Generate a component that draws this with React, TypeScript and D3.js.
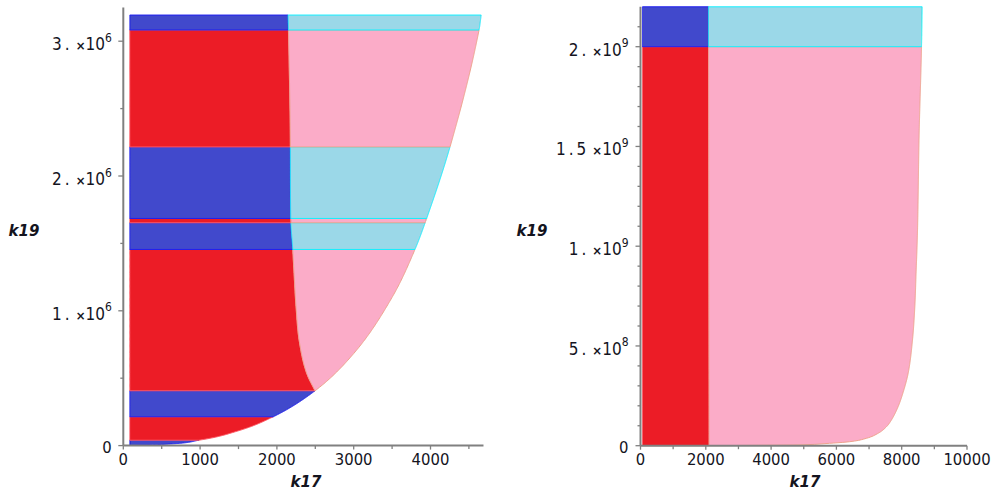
import React from "react";
import * as d3 from "d3";

// ---------- Left panel data (k17, k19) ----------
const leftCurveK17 = [0, 500, 1000, 1500, 1953, 2496, 3000, 3500, 3798, 3950, 4254, 4632, 4660];
const leftCurveK19 = [0, 0.0085e6, 0.0415e6, 0.11e6, 0.214e6, 0.4065e6, 0.683e6, 1.1e6, 1.455e6, 1.685e6, 2.2155e6, 3.083e6, 3.194e6];
const leftDividerK17 = [2496, 2388, 2292, 2249, 2223, 2206, 2180, 2175, 2150, 2145];
const leftDividerK19 = [0.4065e6, 0.5356e6, 0.7715e6, 1.029e6, 1.2775e6, 1.455e6, 1.685e6, 2.2155e6, 3.083e6, 3.194e6];
const leftBandEdges = [0, 0.04e6, 0.214e6, 0.4065e6, 1.455e6, 1.653e6, 1.685e6, 2.2155e6, 3.083e6, 3.194e6];
const leftBandKinds = ["b", "r", "b", "r", "b", "r", "b", "r", "b"];
const leftMinK17 = 85;
const leftXMajor = [0, 1000, 2000, 3000, 4000];
const leftXMinor = [500, 1500, 2500, 3500, 4500];
const leftYMajor = [0, 1e6, 2e6, 3e6];
const leftYMinor = [0.5e6, 1.5e6, 2.5e6];
const leftYMant = ["0", "1.", "2.", "3."];
const leftYExp = ["", "6", "6", "6"];

// ---------- Right panel data ----------
const rightCurveK17 = [0, 2496, 4660, 5791, 6405, 6918, 7276, 7533, 7686, 7890, 8065, 8198, 8331, 8402, 8440, 8480, 8535, 8608, 8627];
const rightCurveK19 = [0, 0.0004e9, 0.0032e9, 0.012e9, 0.02e9, 0.037e9, 0.062e9, 0.095e9, 0.129e9, 0.1955e9, 0.279e9, 0.363e9, 0.53e9, 0.697e9, 0.864e9, 1.05e9, 1.567e9, 2.0e9, 2.2e9];
const rightDividerK17 = [2100, 2083];
const rightDividerK19 = [0.0004e9, 2.2e9];
const rightBandEdges = [0, 2.0e9, 2.2e9];
const rightBandKinds = ["r", "b"];
const rightMinK17 = 60;
const rightXMajor = [0, 2000, 4000, 6000, 8000, 10000];
const rightXMinor = [1000, 3000, 5000, 7000, 9000];
const rightYMajor = [0, 0.5e9, 1e9, 1.5e9, 2e9];
const rightYMinor = [1e8, 2e8, 3e8, 4e8, 6e8, 7e8, 8e8, 9e8, 1.1e9, 1.2e9, 1.3e9, 1.4e9, 1.6e9, 1.7e9, 1.8e9, 1.9e9, 2.1e9];
const rightYMant = ["0", "5.", "1.", "1.5", "2."];
const rightYExp = ["", "8", "9", "9", "9"];

const STYLE: Record<string, { fill: string; stroke: string }> = {
  b: { fill: "#4149cc", stroke: "#1f1ff0" },
  r: { fill: "#ec1c26", stroke: "#ff5a66" },
  lb: { fill: "#9bd8e8", stroke: "#14f0ff" },
  lr: { fill: "#fbacc8", stroke: "#eea48e" },
};

const TICKFONT = "'DejaVu Sans Condensed', 'DejaVu Sans', Verdana, sans-serif";
const LABELFONT = "'DejaVu Sans', Verdana, sans-serif";
const AXIS = "#808080";
const TEXT = "#14141e";

// Fritsch–Carlson monotone cubic interpolation through the read points
function monotone(xs: number[], ys: number[]) {
  const n = xs.length;
  const d: number[] = [];
  for (let k = 0; k < n - 1; k++) d.push((ys[k + 1] - ys[k]) / (xs[k + 1] - xs[k]));
  const m: number[] = new Array(n);
  m[0] = d[0];
  m[n - 1] = d[n - 2];
  for (let k = 1; k < n - 1; k++) m[k] = d[k - 1] * d[k] <= 0 ? 0 : (d[k - 1] + d[k]) / 2;
  for (let k = 0; k < n - 1; k++) {
    if (d[k] === 0) { m[k] = 0; m[k + 1] = 0; continue; }
    const a = m[k] / d[k], b = m[k + 1] / d[k];
    const s = a * a + b * b;
    if (s > 9) { const t = 3 / Math.sqrt(s); m[k] = t * a * d[k]; m[k + 1] = t * b * d[k]; }
  }
  return (x: number) => {
    if (x <= xs[0]) return ys[0];
    if (x >= xs[n - 1]) return ys[n - 1];
    const i = Math.min(n - 2, d3.bisectRight(xs, x) - 1);
    const h = xs[i + 1] - xs[i];
    const t = (x - xs[i]) / h;
    const t2 = t * t, t3 = t2 * t;
    return (2 * t3 - 3 * t2 + 1) * ys[i] + (t3 - 2 * t2 + t) * h * m[i] + (-2 * t3 + 3 * t2) * ys[i + 1] + (t3 - t2) * h * m[i + 1];
  };
}

type Cfg = {
  xDomain: number[]; xRange: number[]; yDomain: number[]; yRange: number[];
  curveK17: number[]; curveK19: number[]; divK17: number[]; divK19: number[];
  edges: number[]; kinds: string[]; kmin: number;
  xMajor: number[]; xMinor: number[]; yMajor: number[]; yMinor: number[];
  yMant: string[]; yExp: string[];
  xLabelPos: number[]; yLabelPos: number[]; labelGap: number; samples: number;
};

function Panel({ cfg }: { cfg: Cfg }) {
  const x = d3.scaleLinear().domain(cfg.xDomain).range(cfg.xRange);
  const y = d3.scaleLinear().domain(cfg.yDomain).range(cfg.yRange);
  const R = monotone(cfg.curveK19, cfg.curveK17);
  const D = monotone(cfg.divK19, cfg.divK17);
  const tip = cfg.divK19[0];
  const knots = [...cfg.curveK19, ...cfg.divK19];
  const line = d3.line<[number, number]>().x((d) => x(d[0])).y((d) => y(d[1]));

  const polys: { d: string; kind: string }[] = [];
  for (let i = 0; i < cfg.kinds.length; i++) {
    const lo = cfg.edges[i];
    const hi = cfg.edges[i + 1];
    const N = cfg.samples;
    const samp = Array.from(
      new Set([lo, hi, tip, ...knots, ...d3.range(N + 1).map((j) => lo + ((hi - lo) * j) / N)])
    )
      .filter((v) => v >= lo && v <= hi)
      .sort((a, b) => a - b);
    const right = samp.map((v) => [Math.max(cfg.kmin, Math.min(R(v), D(v))), v] as [number, number]);
    const dark: [number, number][] = [
      ...samp.map((v) => [cfg.kmin, v] as [number, number]),
      ...right.slice().reverse(),
    ];
    polys.push({ d: line(dark) + "Z", kind: cfg.kinds[i] });
    const s2 = samp.filter((v) => v >= tip && R(v) >= D(v));
    if (s2.length > 1) {
      const light: [number, number][] = [
        ...s2.map((v) => [D(v), v] as [number, number]),
        ...s2.slice().reverse().map((v) => [R(v), v] as [number, number]),
      ];
      polys.push({ d: line(light) + "Z", kind: cfg.kinds[i] === "b" ? "lb" : "lr" });
    }
  }

  const x0 = cfg.xRange[0];
  const y0 = cfg.yRange[0];
  return (
    <g>
      {polys.map((p, i) => (
        <path key={i} d={p.d} fill={STYLE[p.kind].fill} stroke={STYLE[p.kind].stroke} strokeWidth={1} strokeLinejoin="round" />
      ))}
      <line x1={x0} x2={cfg.xRange[1]} y1={y0} y2={y0} stroke={AXIS} strokeWidth={2} />
      <line x1={x0} x2={x0} y1={y0} y2={cfg.yRange[1]} stroke={AXIS} strokeWidth={2} />
      {cfg.xMajor.map((t) => (
        <line key={"xm" + t} x1={x(t)} x2={x(t)} y1={y0} y2={y0 + 4} stroke={AXIS} strokeWidth={1.3} />
      ))}
      {cfg.xMinor.map((t) => (
        <line key={"xn" + t} x1={x(t)} x2={x(t)} y1={y0} y2={y0 + 3.5} stroke={AXIS} strokeWidth={1.3} />
      ))}
      {cfg.yMajor.map((t) => (
        <line key={"ym" + t} x1={x0 - 5} x2={x0} y1={y(t)} y2={y(t)} stroke={AXIS} strokeWidth={1.3} />
      ))}
      {cfg.yMinor.map((t) => (
        <line key={"yn" + t} x1={x0 - 3} x2={x0} y1={y(t)} y2={y(t)} stroke={AXIS} strokeWidth={1.3} />
      ))}
      {cfg.xMajor.map((t) => (
        <text key={"xl" + t} x={x(t)} y={465} textAnchor="middle" fontFamily={TICKFONT} fontSize={16.5} fill={TEXT}>
          {t}
        </text>
      ))}
      {cfg.yMajor.map((t, i) =>
        cfg.yExp[i] === "" ? (
          <text key={"yl" + t} x={x0 - cfg.labelGap} y={y(t) + 7.5} textAnchor="end" fontFamily={TICKFONT} fontSize={16.5} fill={TEXT}>
            {cfg.yMant[i]}
          </text>
        ) : (
          <text key={"yl" + t} x={x0 - cfg.labelGap} y={y(t) + 9} textAnchor="end" fontFamily={TICKFONT} fontSize={17} fill={TEXT}>
            <tspan letterSpacing={3}>{cfg.yMant[i]}</tspan>
            <tspan dx={3} fontSize={13} fontWeight="bold">×</tspan>
            <tspan>10</tspan>
            <tspan dy={-8.5} fontSize={12}>{cfg.yExp[i]}</tspan>
          </text>
        )
      )}
      <text x={cfg.xLabelPos[0]} y={cfg.xLabelPos[1]} textAnchor="middle" fontFamily={LABELFONT} fontSize={15} fontWeight="bold" fontStyle="italic" fill={TEXT}>
        k17
      </text>
      <text x={cfg.yLabelPos[0]} y={cfg.yLabelPos[1]} textAnchor="middle" fontFamily={LABELFONT} fontSize={15} fontWeight="bold" fontStyle="italic" fill={TEXT}>
        k19
      </text>
    </g>
  );
}

const leftCfg: Cfg = {
  xDomain: [0, 4690], xRange: [123.3, 123.3 + 4690 * 0.0768],
  yDomain: [0, 3.25e6], yRange: [445.6, 445.6 - 3.25 * 134.8],
  curveK17: leftCurveK17, curveK19: leftCurveK19, divK17: leftDividerK17, divK19: leftDividerK19,
  edges: leftBandEdges, kinds: leftBandKinds, kmin: leftMinK17,
  xMajor: leftXMajor, xMinor: leftXMinor, yMajor: leftYMajor, yMinor: leftYMinor,
  yMant: leftYMant, yExp: leftYExp,
  xLabelPos: [306, 486.5], yLabelPos: [24, 235.5], labelGap: 11.5, samples: 120,
};

const rightCfg: Cfg = {
  xDomain: [0, 10000], xRange: [640.5, 967],
  yDomain: [0, 2.2e9], yRange: [445.7, 445.7 - 2.2 * 199.5],
  curveK17: rightCurveK17, curveK19: rightCurveK19, divK17: rightDividerK17, divK19: rightDividerK19,
  edges: rightBandEdges, kinds: rightBandKinds, kmin: rightMinK17,
  xMajor: rightXMajor, xMinor: rightXMinor, yMajor: rightYMajor, yMinor: rightYMinor,
  yMant: rightYMant, yExp: rightYExp,
  xLabelPos: [805, 486.5], yLabelPos: [532, 235.5], labelGap: 12, samples: 600,
};

export default function App() {
  return (
    <svg width={997} height={495} style={{ position: "absolute", left: 0, top: 0, background: "#fff" }}>
      <rect width={997} height={495} fill="#fff" />
      <Panel cfg={leftCfg} />
      <Panel cfg={rightCfg} />
    </svg>
  );
}
